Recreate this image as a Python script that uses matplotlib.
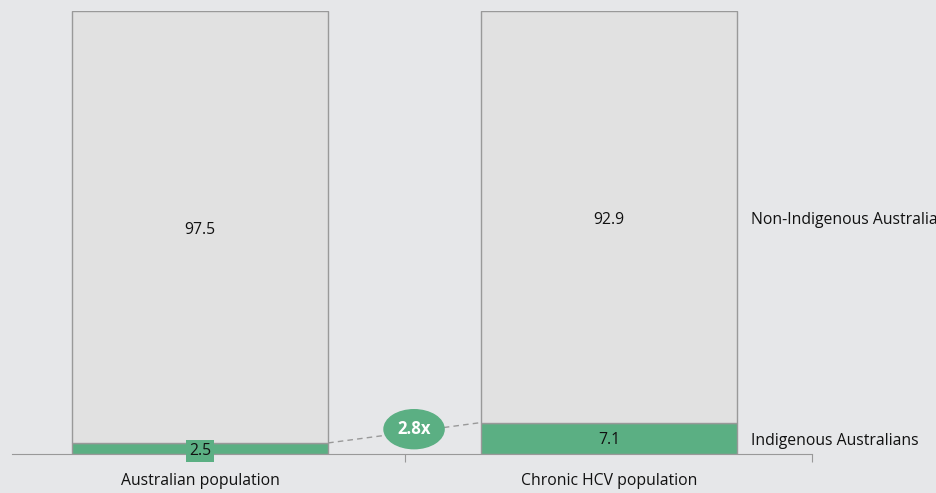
import matplotlib.pyplot as plt
from matplotlib.patches import Ellipse

categories = ["Australian population", "Chronic HCV population"]
indigenous = [2.5, 7.1]
non_indigenous = [97.5, 92.9]
series_labels = ["Indigenous Australians", "Non-Indigenous Australians"]

bg = "#e6e7e9"
green = "#5baf83"
grey_fill = "#e1e1e1"
edge = "#999999"
txt = "#111111"
fs = 11.3

plt.rcParams["font.family"] = ["Open Sans", "DejaVu Sans"]

fig = plt.figure(figsize=(9.37, 4.93), dpi=100, facecolor=bg)
ax = fig.add_axes([12 / 937, 39 / 493, 800 / 937, 443 / 493])
ax.set_facecolor(bg)

x = [0, 1]
width = 0.626
ax.bar(x, indigenous, width=width, color=green, edgecolor=edge, linewidth=1)
ax.bar(x, non_indigenous, width=width, bottom=indigenous, color=grey_fill,
       edgecolor=edge, linewidth=1)

ax.set_xlim(-0.46, 1.496)
ax.set_ylim(0, 100)

# value labels
for i in x:
    top_mid = indigenous[i] + non_indigenous[i] / 2
    ax.text(i, top_mid - 0.7, f"{non_indigenous[i]}", ha="center", va="center",
            fontsize=fs, color=txt)
ax.text(0, 0.6, f"{indigenous[0]}", ha="center", va="center",
        fontsize=fs, color=txt,
        bbox=dict(boxstyle="square,pad=0.2", fc=green, ec="none"))
ax.text(1, indigenous[1] / 2 - 0.3, f"{indigenous[1]}", ha="center", va="center",
        fontsize=fs, color=txt)

# series labels on the right
lx = 1 + width / 2 + 0.033
ax.text(lx, indigenous[1] + non_indigenous[1] / 2 - 0.7, series_labels[1],
        ha="left", va="center", fontsize=fs, color=txt, clip_on=False)
ax.text(lx, 2.9, series_labels[0],
        ha="left", va="center", fontsize=fs, color=txt, clip_on=False)

# ratio connector
x0, y0 = 0 + width / 2, indigenous[0]
x1, y1 = 1 - width / 2, indigenous[1]
ax.plot([x0, x1], [y0, y1], ls=(0, (4, 3)), color=edge, lw=1)
ratio = indigenous[1] / indigenous[0]
cx, cy = (x0 + x1) / 2 + 0.023, (y0 + y1) / 2 + 0.8
ax.add_patch(Ellipse((cx, cy), 0.147, 8.8, color=green, zorder=3))
ax.text(cx, cy, f"{ratio:.1f}x", ha="center", va="center", fontsize=12,
        fontweight="bold", color="white", zorder=4)

# axes styling
for s in ["left", "right", "top"]:
    ax.spines[s].set_visible(False)
ax.spines["bottom"].set_color(edge)
ax.set_yticks([])
ax.set_xticks([0.5, 1.496])
ax.set_xticklabels([])
ax.tick_params(axis="x", length=6, color=edge, direction="out")
for i, c in zip(x, categories):
    ax.text(i, -6.2, c, ha="center", va="center", fontsize=fs, color=txt,
            clip_on=False)

fig.savefig("out.png", dpi=100, facecolor=bg)
